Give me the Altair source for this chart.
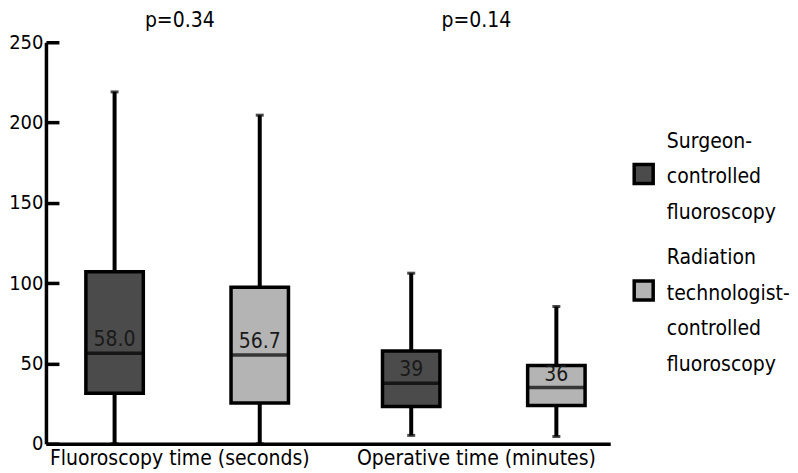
import altair as alt
import pandas as pd

# ---------------- data ----------------
categories = ["Fluoroscopy time (seconds)", "Operative time (minutes)"]
p_values = ["p=0.34", "p=0.14"]
groups = ["Surgeon-controlled fluoroscopy", "Radiation technologist-controlled fluoroscopy"]
legend_lines = [["Surgeon-", "controlled", "fluoroscopy"],
                ["Radiation", "technologist-", "controlled", "fluoroscopy"]]
colors = ["#4b4b4b", "#b4b4b4"]

box_category = [categories[0], categories[0], categories[1], categories[1]]
box_group = [groups[0], groups[1], groups[0], groups[1]]
whisker_low = [0, 0, 5.2, 4.5]
q1 = [31.5, 25.3, 23.2, 23.8]
median = [56.4, 55.3, 37.7, 35.0]
q3 = [107.1, 97.4, 57.8, 48.7]
whisker_high = [219.1, 204.6, 106.2, 85.4]
median_label = ["58.0", "56.7", "39", "36"]
y_ticks = [0, 50, 100, 150, 200, 250]

df = pd.DataFrame({
    "category": box_category, "group": box_group,
    "low": whisker_low, "q1": q1, "median": median, "q3": q3,
    "high": whisker_high, "label": median_label,
})
p_df = pd.DataFrame({"category": categories, "p": p_values})
legend_df = pd.DataFrame({"group": groups, "lines": legend_lines})

FONT = "DejaVu Sans Condensed, Liberation Sans, sans-serif"
FS = 21
W, H = 565, 402
BOX = 57.5

x_enc = alt.X("category:N", sort=categories,
              scale=alt.Scale(paddingInner=0.0976, paddingOuter=0),
              axis=alt.Axis(title=None, labelAngle=0, ticks=False, tickSize=0,
                            labelPadding=4, domainWidth=3.5, domainColor="black",
                            labelFontSize=FS, labelFont=FONT, labelColor="black",
                            labelLimit=0))
xoff = alt.XOffset("group:N", sort=groups,
                   scale=alt.Scale(paddingInner=0.8, paddingOuter=0.322, align=0.579))
y_scale = alt.Scale(domain=[0, 250], nice=False, zero=True)
color_enc = alt.Color("group:N", scale=alt.Scale(domain=groups, range=colors), legend=None)

label_axis = alt.Axis(orient="left", values=y_ticks, ticks=False, domainWidth=3.5,
                      domainColor="black", labelFontSize=20, labelFont=FONT,
                      labelColor="black", labelPadding=3, title=None, grid=False)
tick_axis = alt.Axis(orient="left", values=y_ticks, labels=False, domain=False, ticks=True,
                     tickSize=13, tickWidth=3.5, tickColor="black", offset=-13,
                     title=None, grid=False)

base = alt.Chart(df)

whisker = base.mark_rule(color="black", strokeWidth=4).encode(
    x=x_enc, xOffset=xoff,
    y=alt.Y("low:Q", scale=y_scale, axis=label_axis), y2="high:Q")
cap_low = base.mark_tick(color="black", thickness=3, size=8).encode(
    x=x_enc, xOffset=xoff, y=alt.Y("low:Q", scale=y_scale, axis=None))
cap_high = base.mark_tick(color="black", thickness=3, size=8).encode(
    x=x_enc, xOffset=xoff, y=alt.Y("high:Q", scale=y_scale, axis=tick_axis))
box = base.mark_bar(size=BOX, stroke="black", strokeWidth=3.5, opacity=1).encode(
    x=x_enc, xOffset=xoff,
    y=alt.Y("q1:Q", scale=y_scale, axis=None), y2="q3:Q", color=color_enc)
med = base.mark_tick(color="black", thickness=3.5, size=BOX).encode(
    x=x_enc, xOffset=xoff, y=alt.Y("median:Q", scale=y_scale, axis=None))
med_text = base.mark_text(font=FONT, fontSize=FS, baseline="alphabetic", dy=-7,
                          color="#1a1a1a").encode(
    x=x_enc, xOffset=xoff, y=alt.Y("median:Q", scale=y_scale, axis=None), text="label:N")
p_text = alt.Chart(p_df).mark_text(font=FONT, fontSize=FS, baseline="alphabetic",
                                   color="black").encode(
    x=x_enc, y=alt.value(-15), text="p:N")

main = alt.layer(whisker, cap_low, cap_high, box, med, med_text, p_text).resolve_axis(
    y="independent").properties(width=W, height=H)

# legend panel
LH = 350
leg_y = alt.Y("group:N", sort=groups, axis=None,
              scale=alt.Scale(type="point", padding=1, align=0.565))
leg_base = alt.Chart(legend_df)
leg_sq = leg_base.mark_square(size=361, stroke="black", strokeWidth=3.5, opacity=1).encode(
    x=alt.value(23.5), y=leg_y, color=color_enc)
leg_txt = leg_base.mark_text(font=FONT, fontSize=FS, align="left", baseline="alphabetic",
                             dy=-26, lineHeight=35.5, color="black").encode(
    x=alt.value(46.7), y=leg_y, text="lines")
legend = alt.layer(leg_sq, leg_txt).properties(width=140, height=LH)

chart = alt.hconcat(main, legend, spacing=10).properties(
    padding={"left": 0, "top": 2, "right": 0, "bottom": 0}
).configure_view(stroke=None)

chart.save("out.html", embed_options={"renderer": "svg", "actions": False})
